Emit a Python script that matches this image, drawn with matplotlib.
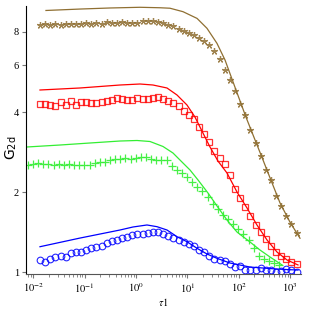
"""Log-log plot of G_2d vs tau1: four data sets with their fitted curves."""

import matplotlib
matplotlib.use('Agg')
import matplotlib.pyplot as plt
from matplotlib.ticker import FixedLocator, FixedFormatter, LogLocator, NullFormatter, NullLocator

plt.rcParams['mathtext.fontset'] = 'stix'
plt.rcParams['font.family'] = ['Liberation Serif', 'DejaVu Serif']

# shared tau grid (brown, red, blue data)
tau = [0.0135, 0.0170, 0.0214, 0.0269, 0.0339, 0.0427, 0.0537, 0.0676, 0.0851, 0.107,
       0.135, 0.170, 0.214, 0.269, 0.339, 0.427, 0.537, 0.676, 0.851, 1.07,
       1.35, 1.70, 2.14, 2.69, 3.39, 4.27, 5.37, 6.76, 8.51, 10.7,
       13.5, 17.0, 21.4, 26.9, 33.9, 42.7, 53.7, 67.6, 85.1, 107,
       135, 170, 214, 269, 339, 427, 537, 676, 851, 1072, 1349]

# green data starts a bit further left
tau_green = [0.00785, 0.00989, 0.01245, 0.01567, 0.01972, 0.02483, 0.03126, 0.03936, 0.04955, 0.06237,
             0.0785, 0.0989, 0.1245, 0.1567, 0.1972, 0.2483, 0.3126, 0.3936, 0.4955, 0.6237,
             0.785, 0.989, 1.245, 1.567, 1.972, 2.483, 3.126, 3.936, 4.955, 6.237,
             7.85, 9.89, 12.45, 15.67, 19.72, 24.83, 31.26, 39.36, 49.55, 62.37,
             78.5, 98.9, 124.5, 156.7, 197.2, 248.3, 312.6, 393.6, 495.5, 623.7]

g_brown = [8.464, 8.538, 8.501, 8.574, 8.501, 8.574, 8.611, 8.538, 8.574, 8.649,
           8.574, 8.686, 8.611, 8.724, 8.649, 8.686, 8.747, 8.686, 8.630, 8.671,
           8.762, 8.823, 8.800, 8.724, 8.630, 8.501, 8.391, 8.211, 8.070, 7.931,
           7.795, 7.595, 7.400, 7.148, 6.785, 6.331, 5.755, 5.278, 4.798, 4.287,
           3.897, 3.422, 3.058, 2.732, 2.420, 2.219, 1.932, 1.772, 1.625, 1.516, 1.402]

g_red = [4.287, 4.287, 4.250, 4.213, 4.362, 4.250, 4.400, 4.250, 4.362, 4.362,
         4.324, 4.324, 4.362, 4.400, 4.438, 4.516, 4.477, 4.438, 4.438, 4.516,
         4.477, 4.477, 4.516, 4.555, 4.477, 4.400, 4.324, 4.213, 4.035, 3.897,
         3.764, 3.512, 3.306, 3.084, 2.853, 2.685, 2.549, 2.318, 2.053, 1.899,
         1.756, 1.625, 1.503, 1.414, 1.331, 1.253, 1.189, 1.149, 1.119, 1.091, 1.072]

g_green = [2.527, 2.549, 2.571, 2.549, 2.549, 2.527, 2.549, 2.527, 2.549, 2.527,
           2.527, 2.527, 2.527, 2.571, 2.594, 2.594, 2.639, 2.662, 2.662, 2.685,
           2.662, 2.685, 2.709, 2.709, 2.662, 2.639, 2.639, 2.639, 2.505, 2.420,
           2.358, 2.278, 2.181, 2.089, 2.017, 1.915, 1.803, 1.726, 1.639, 1.583,
           1.516, 1.451, 1.390, 1.320, 1.231, 1.149, 1.119, 1.100, 1.081, 1.063]

g_blue = [1.110, 1.091, 1.124, 1.139, 1.144, 1.139, 1.179, 1.192, 1.192, 1.210,
          1.231, 1.245, 1.258, 1.286, 1.312, 1.320, 1.337, 1.354, 1.378, 1.396,
          1.396, 1.406, 1.414, 1.414, 1.390, 1.366, 1.348, 1.325, 1.297, 1.274,
          1.253, 1.210, 1.189, 1.149, 1.119, 1.110, 1.100, 1.072, 1.044, 1.053,
          1.017, 1.017, 1.017, 1.035, 1.017, 1.017, 1.000, 1.009, 1.026, 1.017, 1.000]

# fitted curves
fit_brown_t = [0.0176, 0.081, 0.311, 1.197, 2.94, 4.6, 8.24, 15.5, 24.2, 37.9,
               54.3, 89, 139, 209, 299, 410, 641, 1004, 1574]
fit_brown_g = [9.64, 9.76, 9.85, 9.91, 9.87, 9.83, 9.54, 9.0, 8.26, 7.25,
               6.28, 4.84, 3.83, 3.14, 2.64, 2.26, 1.82, 1.54, 1.34]

fit_red_t = [0.01345, 0.081, 0.488, 1.197, 2.144, 4.02, 6.30, 9.86, 14.1, 20.2,
             27.7, 39.6, 59.4, 93.1, 146, 228, 358, 561, 877, 1438]
fit_red_g = [4.840, 4.925, 5.054, 5.098, 5.054, 4.925, 4.635, 4.250, 3.830, 3.335,
             2.954, 2.616, 2.358, 2.0, 1.741, 1.503, 1.320, 1.189, 1.110, 1.063]

fit_green_t = [0.0075, 0.033, 0.127, 0.488, 1.046, 1.875, 3.36, 5.26, 8.24, 11.3,
               16.2, 25.3, 37.9, 59.4, 93.1, 167, 261, 409, 702]
fit_green_g = [2.954, 3.005, 3.058, 3.111, 3.125, 3.098, 2.967, 2.804, 2.571, 2.420,
               2.219, 1.983, 1.772, 1.569, 1.414, 1.297, 1.210, 1.139, 1.063]

fit_blue_t = [0.01345, 0.081, 0.488, 0.874, 1.638, 2.566, 4.02, 6.30, 9.86, 15.5,
              24.2, 37.9, 68, 167, 561, 1438]
fit_blue_g = [1.245, 1.342, 1.439, 1.477, 1.503, 1.481, 1.439, 1.358, 1.300, 1.228,
              1.169, 1.126, 1.081, 1.044, 1.026, 1.017]

brown = '#8f6f32'
red = '#ff0000'
green = '#33ee33'
blue = '#0000ff'

fig = plt.figure(figsize=(3.09, 3.09), dpi=100)
ax = fig.add_axes([0.0841, 0.1133, 0.8900, 0.8665])

ax.plot(fit_brown_t, fit_brown_g, color=brown, lw=0.9)
ax.plot(fit_red_t, fit_red_g, color=red, lw=0.9)
ax.plot(fit_green_t, fit_green_g, color=green, lw=0.9)
ax.plot(fit_blue_t, fit_blue_g, color=blue, lw=0.9)

ax.plot(tau, g_brown, ls='none', marker=(5, 2, 0), ms=5, mew=0.9, color=brown, alpha=0.85)
ax.plot(tau, g_red, ls='none', marker='s', ms=4.8, mfc='none', mew=0.9, color=red, alpha=0.8)
ax.plot(tau_green, g_green, ls='none', marker='+', ms=5.5, mew=0.9, color=green, alpha=0.9)
ax.plot(tau, g_blue, ls='none', marker='o', ms=4.8, mfc='none', mew=0.8, color=blue, alpha=0.85)

ax.set_xscale('log')
ax.set_yscale('log')
ax.set_xlim(0.00718, 1645)
ax.set_ylim(0.983, 10.0)

ax.yaxis.set_major_locator(FixedLocator([1, 2, 4, 6, 8]))
ax.yaxis.set_major_formatter(FixedFormatter(['1', '2', '4', '6', '8']))
ax.yaxis.set_minor_locator(NullLocator())
ax.xaxis.set_major_locator(FixedLocator([1e-2, 1e-1, 1e0, 1e1, 1e2, 1e3]))
ax.xaxis.set_major_formatter(FixedFormatter([r'$10^{-2}$', r'$10^{-1}$', r'$10^{0}$',
                                             r'$10^{1}$', r'$10^{2}$', r'$10^{3}$']))
ax.xaxis.set_minor_locator(LogLocator(base=10, subs=range(2, 10)))
ax.xaxis.set_minor_formatter(NullFormatter())

for side in ['top', 'right']:
    ax.spines[side].set_visible(False)
ax.spines['left'].set_color('black')
ax.spines['bottom'].set_color('#555555')
ax.tick_params(which='major', length=3, width=0.8, color='#777777', labelsize=7.5, pad=2)
ax.tick_params(which='minor', length=2, width=0.6, color='#777777')

ax.set_ylabel(r'G$_{\mathregular{2d}}$', fontsize=10, family='DejaVu Sans')
ax.yaxis.set_label_coords(-0.027, 0.47)
ax.set_xlabel(r'$\tau 1$', fontsize=7.5, labelpad=1)

plt.savefig('out.png', dpi=100)
